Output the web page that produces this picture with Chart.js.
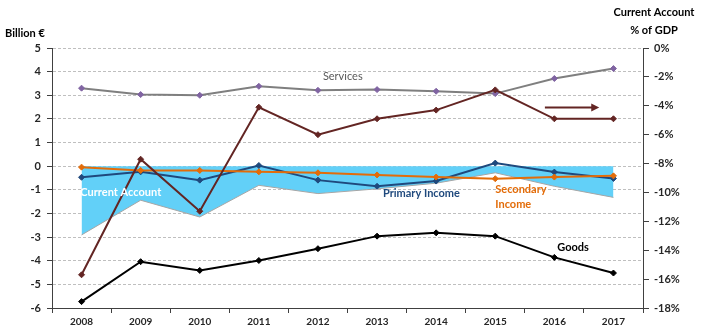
<!DOCTYPE html>
<html>
<head>
<meta charset="utf-8">
<script src="https://cdn.jsdelivr.net/npm/chart.js@4"></script>
<style>
  html, body { margin: 0; padding: 0; background: #fff; }
  #wrap { width: 701px; height: 329px; position: relative; }
</style>
</head>
<body>
<div id="wrap"><canvas id="chart"></canvas></div>
<script>
const years = ["2008", "2009", "2010", "2011", "2012", "2013", "2014", "2015", "2016", "2017"];

// billion € (left axis)
const currentAccount = [-2.91, -1.44, -2.15, -0.81, -1.16, -0.96, -0.72, -0.28, -0.85, -1.32];
const services = [3.3, 3.03, 3.0, 3.38, 3.21, 3.24, 3.17, 3.07, 3.71, 4.13];
const goods = [-5.73, -4.04, -4.41, -3.99, -3.49, -2.96, -2.82, -2.96, -3.86, -4.52];
const primaryIncome = [-0.47, -0.24, -0.59, 0.03, -0.59, -0.85, -0.63, 0.13, -0.25, -0.52];
const secondaryIncome = [-0.04, -0.18, -0.18, -0.24, -0.28, -0.37, -0.46, -0.53, -0.46, -0.41];

// % of GDP (right axis)
const currentAccountPct = [-15.7, -7.7, -11.3, -4.1, -6.0, -4.9, -4.3, -2.9, -4.9, -4.9];

const leftTicks = [-6, -5, -4, -3, -2, -1, 0, 1, 2, 3, 4, 5];
const rightTicks = [-18, -16, -14, -12, -10, -8, -6, -4, -2, 0];

const FONT = "Lato, 'Open Sans', sans-serif";

// in-chart labels, placed via the scales (x as category index, y in billion €)
const notes = [
  { text: ["Services"], x: 4.42, y: 3.79, color: "#595959", bold: false, align: "center" },
  { text: ["Current Account"], x: -0.02, y: -1.1, color: "#ffffff", bold: true, align: "left" },
  { text: ["Primary Income"], x: 5.1, y: -1.16, color: "#1F497D", bold: true, align: "left" },
  { text: ["Secondary", "Income"], x: 7.0, y: -1.0, color: "#E36C09", bold: true, align: "left" },
  { text: ["Goods"], x: 8.05, y: -3.45, color: "#000000", bold: true, align: "left" }
];

const overlay = {
  id: "overlay",
  afterDatasetsDraw(chart) {
    const { ctx, scales } = chart;
    const x = scales.x, y = scales.y;
    ctx.save();
    ctx.textBaseline = "middle";
    notes.forEach(n => {
      ctx.font = (n.bold ? "bold " : "") + "11px " + FONT;
      ctx.fillStyle = n.color;
      ctx.textAlign = n.align;
      n.text.forEach((t, i) => {
        ctx.fillText(t, x.getPixelForValue(n.x), y.getPixelForValue(n.y) + i * 15);
      });
    });

    // arrow pointing to the right axis
    const ax1 = x.getPixelForValue(7.84), ax2 = x.getPixelForValue(8.76);
    const ay = y.getPixelForValue(2.48);
    ctx.strokeStyle = "#632523";
    ctx.fillStyle = "#632523";
    ctx.lineWidth = 2;
    ctx.beginPath();
    ctx.moveTo(ax1, ay);
    ctx.lineTo(ax2 - 6, ay);
    ctx.stroke();
    ctx.beginPath();
    ctx.moveTo(ax2, ay);
    ctx.lineTo(ax2 - 8, ay - 4);
    ctx.lineTo(ax2 - 8, ay + 4);
    ctx.closePath();
    ctx.fill();

    // axis titles
    ctx.fillStyle = "#000";
    ctx.font = "bold 11px " + FONT;
    ctx.textAlign = "left";
    ctx.fillText("Billion €", 5, 33);
    ctx.textAlign = "center";
    ctx.fillText("Current Account", 654, 12);
    ctx.fillText("% of GDP", 654, 30);
    ctx.restore();
  }
};

function lineSet(label, data, color, pointColor, axis, order) {
  return {
    type: "line",
    label: label,
    data: data,
    yAxisID: axis,
    borderColor: color,
    borderWidth: 2,
    pointStyle: "rectRot",
    pointRadius: 3,
    pointBackgroundColor: pointColor,
    pointBorderColor: pointColor,
    pointBorderWidth: 1,
    fill: false,
    tension: 0,
    order: order
  };
}

new Chart(document.getElementById("chart"), {
  type: "line",
  data: {
    labels: years,
    datasets: [
      {
        label: "Current Account",
        data: currentAccount,
        yAxisID: "y",
        borderColor: "#A6A6A6",
        borderWidth: 1,
        backgroundColor: "#62D0F8",
        fill: "origin",
        pointRadius: 0,
        tension: 0,
        order: 10
      },
      lineSet("Services", services, "#7F7F7F", "#8064A2", "y", 3),
      lineSet("Goods", goods, "#000000", "#000000", "y", 3),
      lineSet("Secondary Income", secondaryIncome, "#E36C09", "#E36C09", "y", 2),
      lineSet("Primary Income", primaryIncome, "#1F497D", "#1F497D", "y", 2),
      lineSet("Current Account % of GDP", currentAccountPct, "#632523", "#632523", "y1", 1)
    ]
  },
  options: {
    responsive: true,
    maintainAspectRatio: false,
    animation: false,
    events: [],
    layout: { padding: { top: 48, bottom: 0, left: 0, right: 0 } },
    plugins: {
      legend: { display: false },
      tooltip: { enabled: false }
    },
    scales: {
      x: {
        offset: true,
        grid: { offset: true, drawOnChartArea: false, drawTicks: true, tickLength: 5, color: "#404040" },
        border: { color: "#404040", width: 1 },
        ticks: { font: { family: FONT, size: 10, weight: "bold" }, color: "#262626", padding: 3, maxRotation: 0 },
        afterFit: s => { s.height = 21; }
      },
      y: {
        position: "left",
        min: -6,
        max: 5,
        afterBuildTicks: s => { s.ticks = leftTicks.map(v => ({ value: v })); },
        grid: { color: "#BFBFBF", lineWidth: 1, tickLength: 5, tickColor: "#404040" },
        border: { color: "#404040", width: 1, dash: [3, 2] },
        ticks: { font: { family: FONT, size: 11, weight: "bold" }, color: "#262626", padding: 6 },
        afterFit: s => { s.width = 52; }
      },
      y1: {
        position: "right",
        min: -18,
        max: 0,
        afterBuildTicks: s => { s.ticks = rightTicks.map(v => ({ value: v })); },
        grid: { drawOnChartArea: false, tickLength: 6, color: "#404040" },
        border: { color: "#404040", width: 1 },
        ticks: { font: { family: FONT, size: 11, weight: "bold" }, color: "#262626", padding: 5, callback: v => v + "%" },
        afterFit: s => { s.width = 58; }
      }
    }
  },
  plugins: [overlay]
});
</script>
</body>
</html>
